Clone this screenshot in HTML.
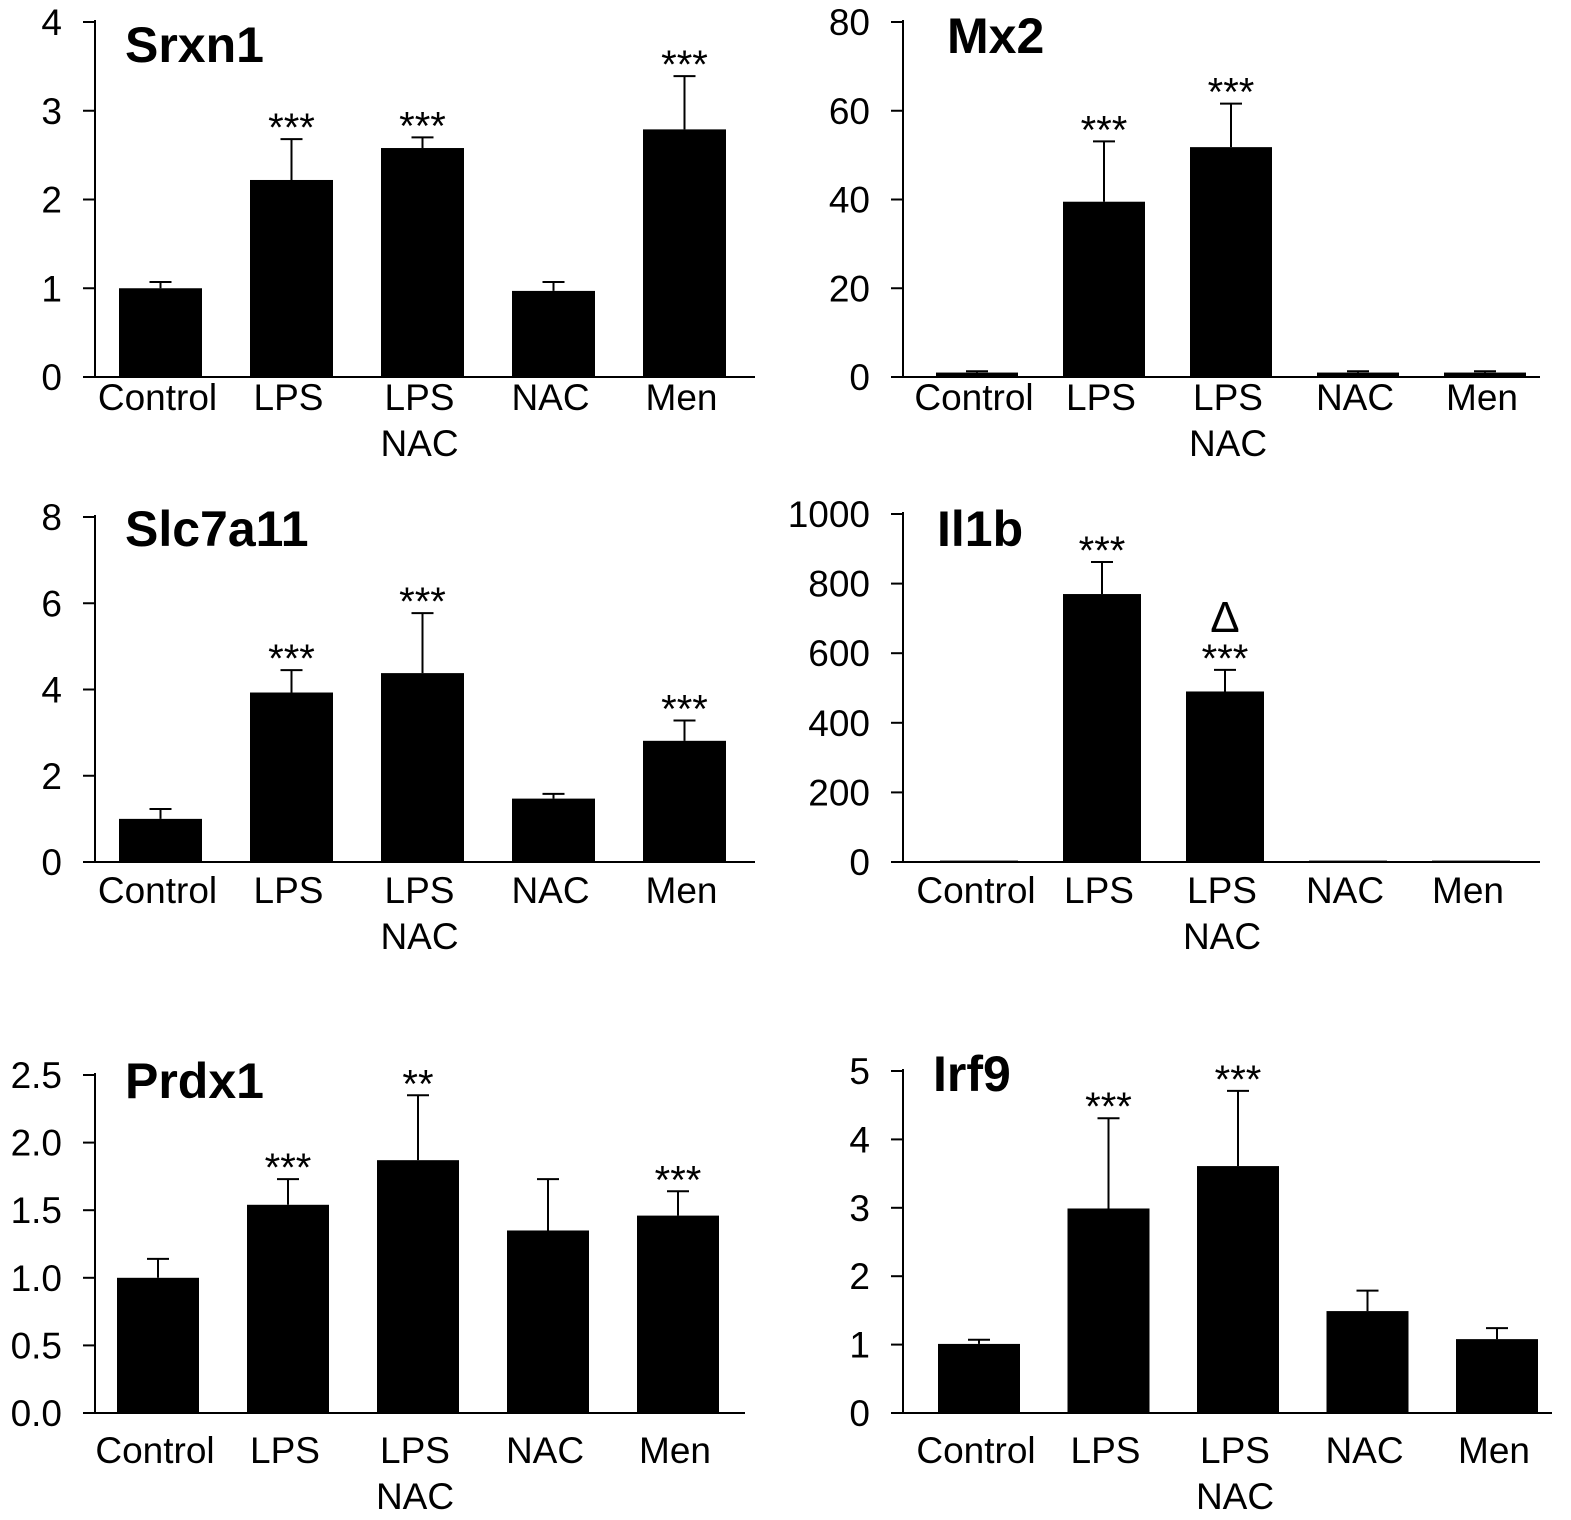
<!DOCTYPE html>
<html><head><meta charset="utf-8"><style>
html,body{margin:0;padding:0;background:#fff}
svg{display:block}
text{font-family:"Liberation Sans",sans-serif;fill:#000}
</style></head><body>
<svg id="fig" width="1571" height="1520" viewBox="0 0 1571 1520" xmlns="http://www.w3.org/2000/svg"></svg>
<script>
const categories = ["Control","LPS","LPS\nNAC","NAC","Men"];
const srxn1Values = [1.0, 2.22, 2.58, 0.97, 2.79];
const srxn1Errors = [0.07, 0.46, 0.12, 0.10, 0.60];
const srxn1Marks = ["", "***", "***", "", "***"];
const srxn1Ticks = ["0","1","2","3","4"];
const mx2Values = [1, 39.5, 51.8, 1, 1];
const mx2Errors = [0.3, 13.6, 9.8, 0.3, 0.3];
const mx2Marks = ["", "***", "***", "", ""];
const mx2Ticks = ["0","20","40","60","80"];
const slcValues = [1.0, 3.93, 4.38, 1.47, 2.81];
const slcErrors = [0.23, 0.52, 1.39, 0.11, 0.47];
const slcMarks = ["", "***", "***", "", "***"];
const slcTicks = ["0","2","4","6","8"];
const il1bValues = [4, 770, 490, 4, 4];
const il1bErrors = [0, 92, 62, 0, 0];
const il1bMarks = ["", "***", "Δ\n***", "", ""];
const il1bTicks = ["0","200","400","600","800","1000"];
const prdxValues = [1.0, 1.54, 1.87, 1.35, 1.46];
const prdxErrors = [0.14, 0.19, 0.48, 0.38, 0.18];
const prdxMarks = ["", "***", "**", "", "***"];
const prdxTicks = ["0.0","0.5","1.0","1.5","2.0","2.5"];
const irf9Values = [1.01, 2.99, 3.61, 1.49, 1.08];
const irf9Errors = [0.06, 1.32, 1.10, 0.30, 0.16];
const irf9Marks = ["", "***", "***", "", ""];
const irf9Ticks = ["0","1","2","3","4","5"];

const panels = [
 {id:"srxn1",title:"Srxn1",tx:125,ty:62,ax:95,y0:377,yT:22,max:4,x0:119,step:131,w:83,xEnd:755,lo:33,v:srxn1Values,e:srxn1Errors,m:srxn1Marks,t:srxn1Ticks},
 {id:"mx2",title:"Mx2",tx:947,ty:53,ax:903,y0:377,yT:22,max:80,x0:936,step:127,w:82,xEnd:1540,lo:33,v:mx2Values,e:mx2Errors,m:mx2Marks,t:mx2Ticks},
 {id:"slc7a11",title:"Slc7a11",tx:125,ty:546,ax:95,y0:862,yT:517,max:8,x0:119,step:131,w:83,xEnd:755,lo:41,v:slcValues,e:slcErrors,m:slcMarks,t:slcTicks},
 {id:"il1b",title:"Il1b",tx:937,ty:546,ax:903,y0:862,yT:514,max:1000,x0:940,step:123,w:78,xEnd:1540,lo:41,v:il1bValues,e:il1bErrors,m:il1bMarks,t:il1bTicks},
 {id:"prdx1",title:"Prdx1",tx:125,ty:1098,ax:95,y0:1413,yT:1075,max:2.5,x0:117,step:130,w:82,xEnd:745,lo:50,v:prdxValues,e:prdxErrors,m:prdxMarks,t:prdxTicks},
 {id:"irf9",title:"Irf9",tx:933,ty:1091,ax:903,y0:1413,yT:1071,max:5,x0:938,step:129.5,w:82,xEnd:1552,lo:50,v:irf9Values,e:irf9Errors,m:irf9Marks,t:irf9Ticks}
];
const NS="http://www.w3.org/2000/svg";
const svg=document.getElementById('fig');
function mk(tag,attrs,parent){const el=document.createElementNS(NS,tag);for(const k in attrs)el.setAttribute(k,attrs[k]);parent.appendChild(el);return el;}
panels.forEach(p=>{
  const g=mk('g',{},svg);
  
  
  const y=v=>p.y0-(v/p.max)*(p.y0-p.yT);
  const xb=i=>p.x0+i*p.step;
  const title=mk('text',{x:p.tx,y:p.ty,'font-size':50,'font-weight':'bold'},g);
  title.textContent=p.title;
  
  
  const yax=mk('line',{x1:p.ax,y1:p.yT-2,x2:p.ax,y2:p.y0,stroke:'#000','stroke-width':2},g);
  
  
  const xax=mk('line',{x1:p.ax-12,y1:p.y0,x2:p.xEnd,y2:p.y0,stroke:'#000','stroke-width':2},g);
  
  
  const n=p.t.length-1;
  p.t.forEach((lab,i)=>{
    const val=p.max*i/n, yy=y(val);
    mk('line',{x1:p.ax-12,y1:yy,x2:p.ax,y2:yy,stroke:'#000','stroke-width':2},g);
    const t=mk('text',{x:p.ax-33,y:yy+13,'font-size':37,'text-anchor':'end'},g);
    t.textContent=lab;
    
    
  });
  p.v.forEach((v,i)=>{
    const x=xb(i), cx=x+p.w/2, top=y(v), et=y(v+p.e[i]);
    const r=mk('rect',{x:x,y:top,width:p.w,height:p.y0-top,fill:'#000'},g);
    
    
    if(p.e[i]>0){
      const el=mk('path',{d:`M${cx},${top}V${et}M${cx-11},${et}H${cx+11}`,stroke:'#000','stroke-width':2,fill:'none'},g);
      
      
    }
    const lines=categories[i].split('\n');
    lines.forEach((ln,k)=>{
      const t=mk('text',{x:cx-3,y:p.y0+p.lo+k*46,'font-size':37,'text-anchor':'middle'},g);
      t.textContent=ln;
      
      
    });
    if(p.m[i]){
      const ms=p.m[i].split('\n');
      ms.forEach((s,k)=>{
        const fromBottom=ms.length-1-k;
        const isDelta=s==='Δ';
        const t=mk('text',{x:cx,y:et+2-fromBottom*34+(isDelta?-6:0),'font-size':isDelta?44:40,'text-anchor':'middle'},g);
        if(isDelta)t.setAttribute('font-family','"Liberation Serif",serif');
        t.textContent=s;
        
        
      });
    }
  });
});
</script>
</body></html>
